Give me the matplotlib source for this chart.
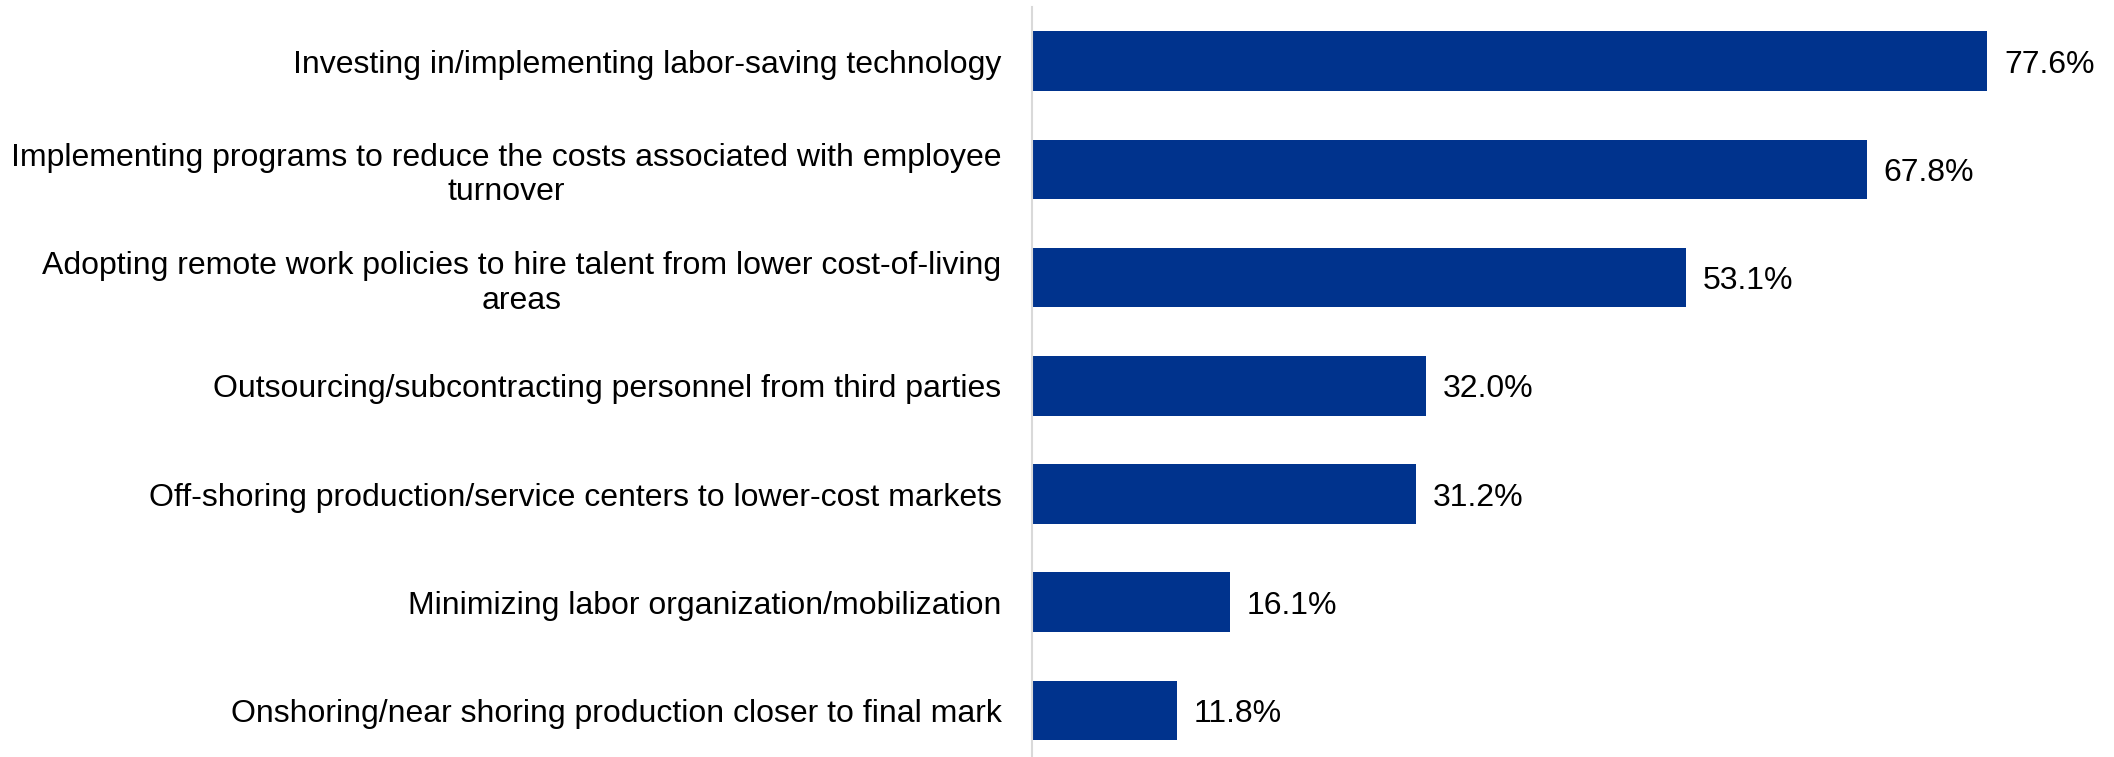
import matplotlib.pyplot as plt

plt.rcParams['font.family'] = ['Liberation Sans', 'DejaVu Sans']

# Data
categories = [
    "Investing in/implementing labor-saving technology",
    "Implementing programs to reduce the costs associated with employee\nturnover",
    "Adopting remote work policies to hire talent from lower cost-of-living\nareas",
    "Outsourcing/subcontracting personnel from third parties",
    "Off-shoring production/service centers to lower-cost markets",
    "Minimizing labor organization/mobilization",
    "Onshoring/near shoring production closer to final mark",
]
values = [77.6, 67.8, 53.1, 32.0, 31.2, 16.1, 11.8]

fig = plt.figure(figsize=(21.14, 7.57), dpi=100)
ax = fig.add_axes([0.4882, 0.0, 0.5118, 0.9908])

y = range(len(categories))
ax.barh(y, values, height=0.55, color="#00338d")

for i, v in enumerate(values):
    ax.annotate(f"{v:.1f}%", xy=(v, i), xytext=(12, 0), textcoords="offset points",
                ha="left", va="center_baseline", fontsize=23, color="black")

ax.set_yticks(list(y))
ax.set_yticklabels(categories, fontsize=23)
for lbl in ax.get_yticklabels():
    lbl.set_multialignment("center")
    lbl.set_linespacing(1.2)
ax.tick_params(axis="y", length=0, pad=22)
ax.set_xticks([])
ax.set_xlim(0, 87.9)
ax.set_ylim(6.43, -0.5)

for s in ["top", "right", "bottom"]:
    ax.spines[s].set_visible(False)
ax.spines["left"].set_color("#d9d9d9")
ax.spines["left"].set_linewidth(1.5)

fig.savefig("out.png", dpi=100)
